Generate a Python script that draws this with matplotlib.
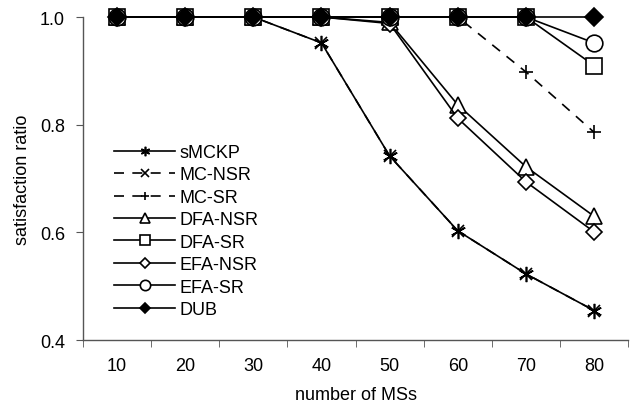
import matplotlib

matplotlib.use("Agg")
import matplotlib.pyplot as plt  # noqa: E402
import numpy as np  # noqa: E402

plt.rcParams["font.family"] = ["Liberation Sans", "DejaVu Sans"]

# ---- data ----
ms_counts = [10, 20, 30, 40, 50, 60, 70, 80]
smckp = [1.0, 1.0, 1.0, 0.952, 0.742, 0.603, 0.523, 0.455]
mc_nsr = [1.0, 1.0, 1.0, 0.952, 0.742, 0.603, 0.523, 0.455]  # hidden under sMCKP
mc_sr = [1.0, 1.0, 1.0, 1.0, 1.0, 1.0, 0.898, 0.786]
dfa_nsr = [1.0, 1.0, 1.0, 1.0, 0.99, 0.837, 0.722, 0.63]
dfa_sr = [1.0, 1.0, 1.0, 1.0, 1.0, 1.0, 1.0, 0.91]
efa_nsr = [1.0, 1.0, 1.0, 1.0, 0.988, 0.812, 0.694, 0.601]
efa_sr = [1.0, 1.0, 1.0, 1.0, 1.0, 1.0, 1.0, 0.952]
dub = [1.0, 1.0, 1.0, 1.0, 1.0, 1.0, 1.0, 1.0]

series = [
    ("MC-NSR", mc_nsr, (0, (6, 5)), "x", "none"),
    ("sMCKP", smckp, "-", (6, 2, 0), "none"),
    ("MC-SR", mc_sr, (0, (6, 5)), "+", "none"),
    ("DFA-NSR", dfa_nsr, "-", "^", "white"),
    ("DFA-SR", dfa_sr, "-", "s", "white"),
    ("EFA-NSR", efa_nsr, "-", "D", "white"),
    ("EFA-SR", efa_sr, "-", "o", "white"),
    ("DUB", dub, "-", "D", "black"),
]
legend_order = ["sMCKP", "MC-NSR", "MC-SR", "DFA-NSR", "DFA-SR", "EFA-NSR", "EFA-SR", "DUB"]
sizes = {"sMCKP": 11, "MC-NSR": 9, "MC-SR": 10, "DFA-NSR": 11, "DFA-SR": 11,
         "EFA-NSR": 8, "EFA-SR": 12, "DUB": 9}

fig = plt.figure(figsize=(6.31, 4.10), dpi=100)
ax = fig.add_axes([0.1315, 0.168, 0.864, 0.788])

x = np.arange(len(ms_counts))
handles = {}
for name, vals, ls, marker, mfc in series:
    (ln,) = ax.plot(x, vals, linestyle=ls, color="black", linewidth=1.2,
                    marker=marker, markersize=sizes[name], markerfacecolor=mfc,
                    markeredgecolor="black", markeredgewidth=1.2, label=name,
                    clip_on=False)
    handles[name] = ln

ax.set_xlim(-0.5, len(ms_counts) - 0.5)
ax.set_ylim(0.4, 1.0)
ax.set_xticks(x)
ax.set_xticklabels([str(v) for v in ms_counts])
ax.set_xticks(np.arange(-0.5, len(ms_counts)), minor=True)
ax.tick_params(axis="x", which="major", length=0, pad=12, labelsize=13)
ax.tick_params(axis="x", which="minor", length=5, direction="out", color="#555555")
ax.set_yticks([0.4, 0.6, 0.8, 1.0])
ax.set_yticklabels(["0.4", "0.6", "0.8", "1.0"])
ax.tick_params(axis="y", length=5, direction="out", color="#555555", labelsize=13, pad=8)

for side in ("top", "right"):
    ax.spines[side].set_visible(False)
for side in ("left", "bottom"):
    ax.spines[side].set_color("#555555")
    ax.spines[side].set_linewidth(1.0)

ax.set_xlabel("number of MSs", fontsize=13, labelpad=9)
ax.set_ylabel("satisfaction ratio", fontsize=13, labelpad=6)

ax.legend([handles[n] for n in legend_order], legend_order,
          loc="upper left", bbox_to_anchor=(0.057, 0.607), frameon=False,
          fontsize=13, handlelength=3.4, handletextpad=0.25, labelspacing=0.3,
          markerscale=0.62, borderaxespad=0, borderpad=0)

fig.savefig("out.png", dpi=100)
